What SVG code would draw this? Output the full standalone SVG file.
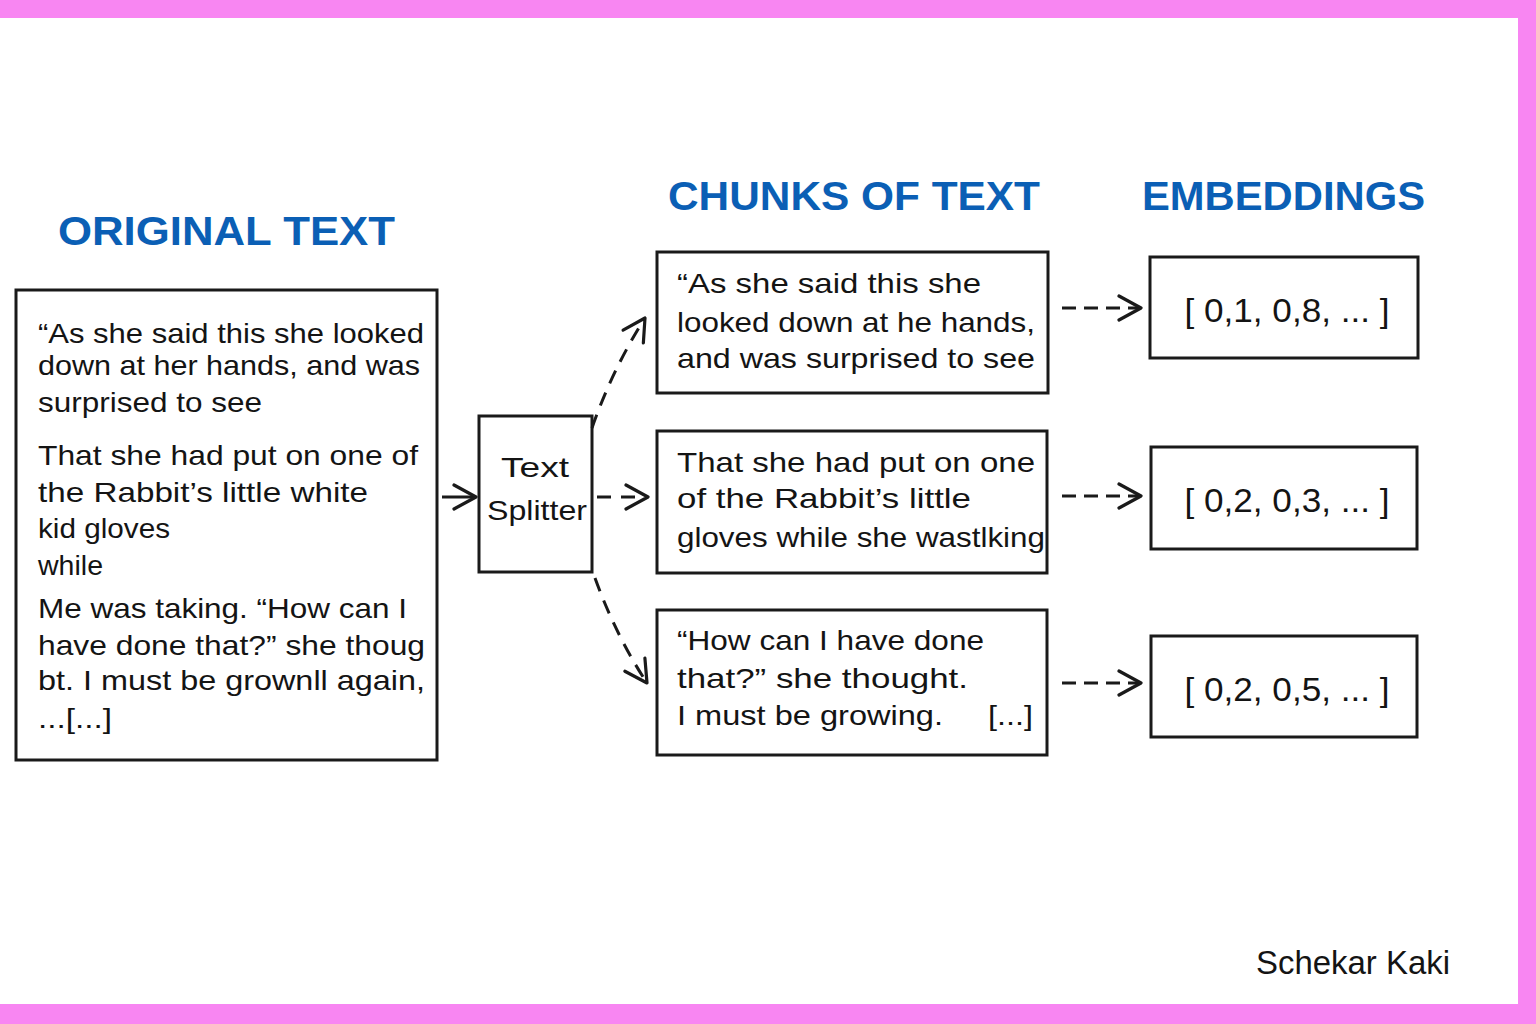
<svg xmlns="http://www.w3.org/2000/svg" width="1536" height="1024" viewBox="0 0 1536 1024">
<style>
.frame{fill:#f886f2}
.box{fill:#fff;stroke:#1a1a1a;stroke-width:3}
.body{font-family:"Liberation Sans","DejaVu Sans",sans-serif;font-size:28px;fill:#141414}
.head{font-family:"Liberation Sans","DejaVu Sans",sans-serif;font-size:40px;font-weight:bold;fill:#0b5fb5}
.emb{font-family:"Liberation Sans","DejaVu Sans",sans-serif;font-size:33px;fill:#141414}
.conn{fill:none;stroke:#1a1a1a;stroke-width:3}
.dash{stroke-dasharray:14 10}
.sig{font-family:"Liberation Sans","DejaVu Sans",sans-serif;font-size:33px;fill:#141414}
</style>
<defs>
<marker id="chev" viewBox="0 0 26 28" refX="24" refY="14" markerWidth="26" markerHeight="28" markerUnits="userSpaceOnUse" orient="auto">
<path d="M2,2 L24,14 L2,26" fill="none" stroke="#1a1a1a" stroke-width="3.2" stroke-dasharray="none" stroke-linecap="round" stroke-linejoin="round"/>
</marker>
</defs>
<rect width="1536" height="1024" fill="#fff"/>
<rect class="frame" x="0" y="0" width="1536" height="18"/>
<rect class="frame" x="1518" y="0" width="18" height="1024"/>
<rect class="frame" x="0" y="1004" width="1536" height="20"/>

<g id="titles">
<text class="head" x="58" y="245" textLength="337" lengthAdjust="spacingAndGlyphs">ORIGINAL TEXT</text>
<text class="head" x="668" y="210" textLength="372" lengthAdjust="spacingAndGlyphs">CHUNKS OF TEXT</text>
<text class="head" x="1142" y="210" textLength="283" lengthAdjust="spacingAndGlyphs">EMBEDDINGS</text>
</g>

<g id="original-text">
<rect class="box" x="16" y="290" width="421" height="470"/>
<text class="body" x="38" y="343" textLength="386" lengthAdjust="spacingAndGlyphs">“As she said this she looked</text>
<text class="body" x="38" y="375" textLength="382" lengthAdjust="spacingAndGlyphs">down at her hands, and was</text>
<text class="body" x="38" y="412" textLength="224" lengthAdjust="spacingAndGlyphs">surprised to see</text>
<text class="body" x="38" y="465" textLength="380" lengthAdjust="spacingAndGlyphs">That she had put on one of</text>
<text class="body" x="38" y="502" textLength="330" lengthAdjust="spacingAndGlyphs">the Rabbit’s little white</text>
<text class="body" x="38" y="538" textLength="132" lengthAdjust="spacingAndGlyphs">kid gloves</text>
<text class="body" x="38" y="575" textLength="65" lengthAdjust="spacingAndGlyphs">while</text>
<text class="body" x="38" y="618" textLength="369" lengthAdjust="spacingAndGlyphs">Me was taking. “How can I</text>
<text class="body" x="38" y="655" textLength="387" lengthAdjust="spacingAndGlyphs">have done that?” she thoug</text>
<text class="body" x="38" y="690" textLength="387" lengthAdjust="spacingAndGlyphs">bt. I must be grownll again,</text>
<text class="body" x="38" y="728" textLength="74" lengthAdjust="spacingAndGlyphs">...[...]</text>
</g>

<g id="text-splitter">
<rect class="box" x="479" y="416" width="113" height="156"/>
<text class="body" x="535" y="477" text-anchor="middle" textLength="68" lengthAdjust="spacingAndGlyphs">Text</text>
<text class="body" x="537" y="520" text-anchor="middle" textLength="100" lengthAdjust="spacingAndGlyphs">Splitter</text>
</g>

<g id="chunk-1">
<rect class="box" x="657" y="252" width="391" height="141"/>
<text class="body" x="677" y="293" textLength="304" lengthAdjust="spacingAndGlyphs">“As she said this she</text>
<text class="body" x="677" y="332" textLength="358" lengthAdjust="spacingAndGlyphs">looked down at he hands,</text>
<text class="body" x="677" y="368" textLength="358" lengthAdjust="spacingAndGlyphs">and was surprised to see</text>
</g>

<g id="chunk-2">
<rect class="box" x="657" y="431" width="390" height="142"/>
<text class="body" x="677" y="472" textLength="358" lengthAdjust="spacingAndGlyphs">That she had put on one</text>
<text class="body" x="677" y="508" textLength="294" lengthAdjust="spacingAndGlyphs">of the Rabbit’s little</text>
<text class="body" x="677" y="547" textLength="368" lengthAdjust="spacingAndGlyphs">gloves while she wastlking</text>
</g>

<g id="chunk-3">
<rect class="box" x="657" y="610" width="390" height="145"/>
<text class="body" x="677" y="650" textLength="307" lengthAdjust="spacingAndGlyphs">“How can I have done</text>
<text class="body" x="677" y="688" textLength="291" lengthAdjust="spacingAndGlyphs">that?” she thought.</text>
<text class="body" x="677" y="725" textLength="266" lengthAdjust="spacingAndGlyphs">I must be growing.</text>
<text class="body" x="988" y="725" textLength="45" lengthAdjust="spacingAndGlyphs">[...]</text>
</g>

<g id="embedding-1">
<rect class="box" x="1150" y="257" width="268" height="101"/>
<text class="emb" x="1287" y="322" text-anchor="middle" textLength="205" lengthAdjust="spacingAndGlyphs">[ 0,1, 0,8, ... ]</text>
</g>
<g id="embedding-2">
<rect class="box" x="1151" y="447" width="266" height="102"/>
<text class="emb" x="1287" y="512" text-anchor="middle" textLength="205" lengthAdjust="spacingAndGlyphs">[ 0,2, 0,3, ... ]</text>
</g>
<g id="embedding-3">
<rect class="box" x="1151" y="636" width="266" height="101"/>
<text class="emb" x="1287" y="701" text-anchor="middle" textLength="205" lengthAdjust="spacingAndGlyphs">[ 0,2, 0,5, ... ]</text>
</g>

<g id="connectors">
<path class="conn" d="M442,497 L476,497" marker-end="url(#chev)"/>
<path class="conn dash" d="M592,428 Q612,370 645,318" marker-end="url(#chev)"/>
<path class="conn dash" d="M597,497 L648,497" marker-end="url(#chev)"/>
<path class="conn dash" d="M595,578 Q616,636 647,683" marker-end="url(#chev)"/>
<path class="conn" stroke-dasharray="14 8" d="M1062,308 L1141,308" marker-end="url(#chev)"/>
<path class="conn" stroke-dasharray="14 8" d="M1062,496 L1141,496" marker-end="url(#chev)"/>
<path class="conn" stroke-dasharray="14 8" d="M1062,683 L1141,683" marker-end="url(#chev)"/>
</g>

<text class="sig" x="1256" y="974" textLength="194" lengthAdjust="spacingAndGlyphs">Schekar Kaki</text>
</svg>
